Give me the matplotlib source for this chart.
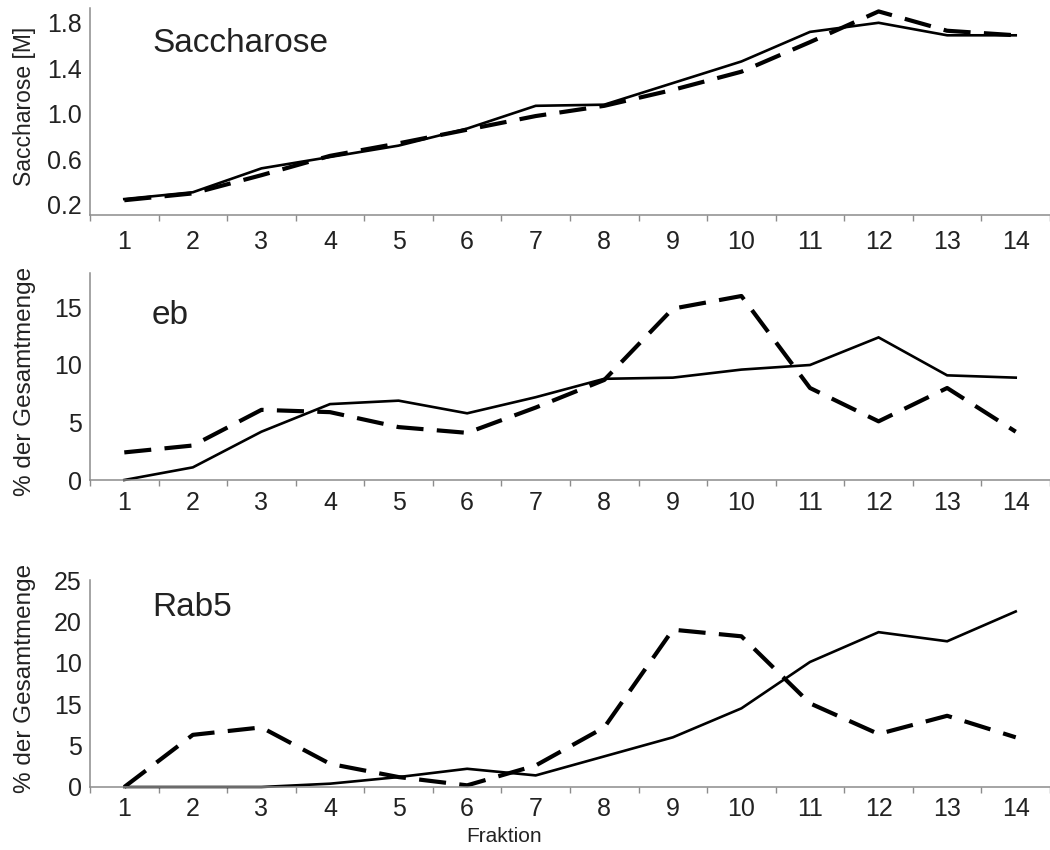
import matplotlib
matplotlib.use("Agg")
import matplotlib.pyplot as plt
import numpy as np

plt.rcParams['font.family'] = ['Liberation Sans', 'DejaVu Sans']

fractions = list(range(1, 15))
frac_labels = [str(f) for f in fractions]

sacch_solid = [0.25, 0.31, 0.52, 0.62, 0.72, 0.87, 1.07, 1.08, 1.27, 1.46, 1.72, 1.80, 1.69, 1.69]
sacch_dash = [0.24, 0.30, 0.46, 0.63, 0.74, 0.86, 0.98, 1.07, 1.21, 1.37, 1.63, 1.90, 1.73, 1.69]

eb_solid = [0.0, 1.1, 4.2, 6.6, 6.9, 5.8, 7.2, 8.8, 8.9, 9.6, 10.0, 12.4, 9.1, 8.9]
eb_dash = [2.4, 3.0, 6.1, 5.9, 4.6, 4.1, 6.3, 8.7, 14.9, 16.0, 8.0, 5.1, 8.0, 4.2]

rab_solid = [0.0, 0.0, 0.0, 0.4, 1.2, 2.2, 1.4, 3.7, 6.0, 9.5, 15.1, 18.7, 17.6, 21.2]
rab_dash = [0.0, 6.3, 7.2, 2.8, 1.2, 0.2, 2.6, 7.2, 19.0, 18.2, 10.1, 6.4, 8.6, 6.0]

sacch_ticks = [0.2, 0.6, 1.0, 1.4, 1.8]
sacch_ticklabels = ['0.2', '0.6', '1.0', '1.4', '1.8']
eb_ticks = [0, 5, 10, 15]
eb_ticklabels = ['0', '5', '10', '15']
rab_ticks = [0, 5, 10, 15, 20, 25]
rab_ticklabels = ['0', '5', '15', '10', '20', '25']

W, H = 1050, 850
fig = plt.figure(figsize=(10.5, 8.5), dpi=100)


def px_axes(left, top, right, bottom):
    return fig.add_axes([left / W, 1 - bottom / H, (right - left) / W, (bottom - top) / H])


panels = [
    dict(box=(90, 8, 1050, 215), ylim=(0.11, 1.93), solid=sacch_solid, dash=sacch_dash,
         ticks=sacch_ticks, labels=sacch_ticklabels, ylabel='Saccharose [M]', ylabel_y=106,
         title='Saccharose', title_xy=(152, 43), xpad=11, ylsize=16.5),
    dict(box=(90, 273, 1050, 480), ylim=(0, 18), solid=eb_solid, dash=eb_dash,
         ticks=eb_ticks, labels=eb_ticklabels, ylabel='% der Gesamtmenge', ylabel_y=381,
         title='eb', title_xy=(152, 316), xpad=8, ylsize=17.5),
    dict(box=(90, 580, 1050, 787), ylim=(0, 24.2), solid=rab_solid, dash=rab_dash,
         ticks=rab_ticks, labels=rab_ticklabels, ylabel='% der Gesamtmenge', ylabel_y=678,
         title='Rab5', title_xy=(152, 607), xpad=7, ylsize=17.5),
]

spine_color = '#8c8c8c'
text_color = '#222222'

for p in panels:
    ax = px_axes(*p['box'])
    ax.plot(fractions, p['solid'], color='black', lw=1.9, solid_joinstyle='miter')
    ax.plot(fractions, p['dash'], color='black', lw=3.0, linestyle=(0, (6.5, 3.2)))
    ax.set_xlim(0.5, 14.42)
    ax.set_ylim(*p['ylim'])
    for s in ['top', 'right']:
        ax.spines[s].set_visible(False)
    for s in ['left', 'bottom']:
        ax.spines[s].set_color(spine_color)
        ax.spines[s].set_linewidth(1.1)
    ax.set_xticks(fractions)
    ax.set_xticklabels(frac_labels)
    ax.set_xticks(np.arange(0.5, 14.6, 1.0), minor=True)
    ax.tick_params(axis='x', which='major', length=0, labelsize=18, pad=p['xpad'],
                   labelcolor=text_color)
    ax.tick_params(axis='x', which='minor', length=4.5, width=1.0, color=spine_color,
                   direction='out')
    ax.set_yticks(p['ticks'])
    ax.set_yticklabels(p['labels'])
    ax.tick_params(axis='y', which='major', length=0, labelsize=18, pad=6,
                   labelcolor=text_color)
    for ln in ax.lines:
        ln.set_clip_on(False)
    fig.text(p['title_xy'][0] / W, 1 - p['title_xy'][1] / H, p['title'],
             fontsize=24, color=text_color, ha='left', va='center')
    fig.text(25 / W, 1 - p['ylabel_y'] / H, p['ylabel'], rotation=90,
             fontsize=p['ylsize'], color=text_color, ha='center', va='center')

fig.text(504 / W, 1 - 836 / H, 'Fraktion', fontsize=15, color=text_color,
         ha='center', va='center')

fig.savefig('out.png', dpi=100, facecolor='white')
